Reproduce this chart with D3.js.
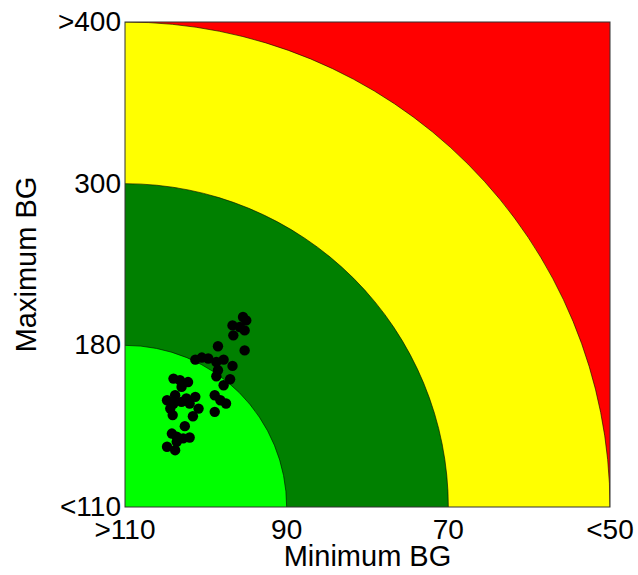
<!DOCTYPE html>
<html><head><meta charset="utf-8">
<script src="https://cdn.jsdelivr.net/npm/d3@7"></script>
<style>body{margin:0;background:#fff;} text{font-family:"Liberation Sans",Arial,sans-serif;fill:#000;}</style>
</head><body><svg id="c" width="638" height="575"></svg>
<script>
const xTicks = [110, 90, 70, 50];
const xTickLabels = [">110", "90", "70", "<50"];
const yTicks = [110, 180, 300, 400];
const yTickLabels = ["<110", "180", "300", ">400"];
const zoneColors = ["#00ff00", "#008000", "#ffff00", "#ff0000"];
const minBG = [95.4,95.0,96.7,95.8,95.2,96.6,98.5,95.2,101.3,100.5,99.7,98.7,97.8,96.7,98.5,98.7,97.0,97.8,104.0,103.2,102.2,103.0,103.8,104.8,102.4,101.3,98.9,98.2,97.5,104.0,103.0,102.0,104.4,100.9,98.9,101.6,104.1,102.6,104.2,103.6,102.8,102.0,104.8,103.8,103.6];
const maxBG = [201.0,198.5,194.8,193.6,191.1,187.4,179.6,177.8,173.8,174.7,174.3,172.8,173.8,171.1,169.2,166.6,165.3,162.7,165.6,164.9,164.1,162.0,158.4,156.2,157.0,157.7,158.4,156.2,154.8,154.8,155.5,154.8,152.6,152.6,151.2,149.3,149.8,145.0,141.8,140.4,139.7,140.1,136.1,134.6,138.2];

const L = 125, R = 610, T = 22, B = 507;
const x = d3.scaleLinear().domain(xTicks).range(xTicks.map((d,i)=>L+(R-L)*i/3));
const y = d3.scaleLinear().domain(yTicks).range(yTicks.map((d,i)=>B-(B-T)*i/3));
const svg = d3.select("#c");
svg.append("defs").append("clipPath").attr("id","clip").append("rect")
  .attr("x",L).attr("y",T).attr("width",R-L).attr("height",B-T);
const g = svg.append("g").attr("clip-path","url(#clip)");
g.append("rect").attr("x",L).attr("y",T).attr("width",R-L).attr("height",B-T).attr("fill",zoneColors[3]);
[3,2,1].forEach(k=>{
  g.append("circle").attr("cx",x(xTicks[0])).attr("cy",y(yTicks[0]))
   .attr("r", x(xTicks[k]) - x(xTicks[0]))
   .attr("fill", zoneColors[k-1]).attr("stroke","#000").attr("stroke-width",0.6);
});
g.selectAll("circle.pt").data(minBG.map((d,i)=>[d,maxBG[i]])).join("circle")
  .attr("class","pt").attr("cx",d=>x(d[0])).attr("cy",d=>y(d[1])).attr("r",5.2).attr("fill","#000");
svg.append("rect").attr("x",L).attr("y",T).attr("width",R-L).attr("height",B-T)
  .attr("fill","none").attr("stroke","#333").attr("stroke-width",1);
// tick labels
svg.selectAll("text.xt").data(xTicks).join("text").attr("class","xt")
  .attr("x",d=>x(d)).attr("y",539).attr("text-anchor","middle").attr("font-size",28)
  .text((d,i)=>xTickLabels[i]);
svg.selectAll("text.yt").data(yTicks).join("text").attr("class","yt")
  .attr("x",L-4).attr("y",d=>y(d)+9).attr("text-anchor","end").attr("font-size",28)
  .text((d,i)=>yTickLabels[i]);
svg.append("text").attr("x",(L+R)/2).attr("y",566).attr("text-anchor","middle").attr("font-size",29).text("Minimum BG");
svg.append("text").attr("transform",`translate(36,${(T+B)/2}) rotate(-90)`).attr("text-anchor","middle").attr("font-size",29).text("Maximum BG");
</script></body></html>
